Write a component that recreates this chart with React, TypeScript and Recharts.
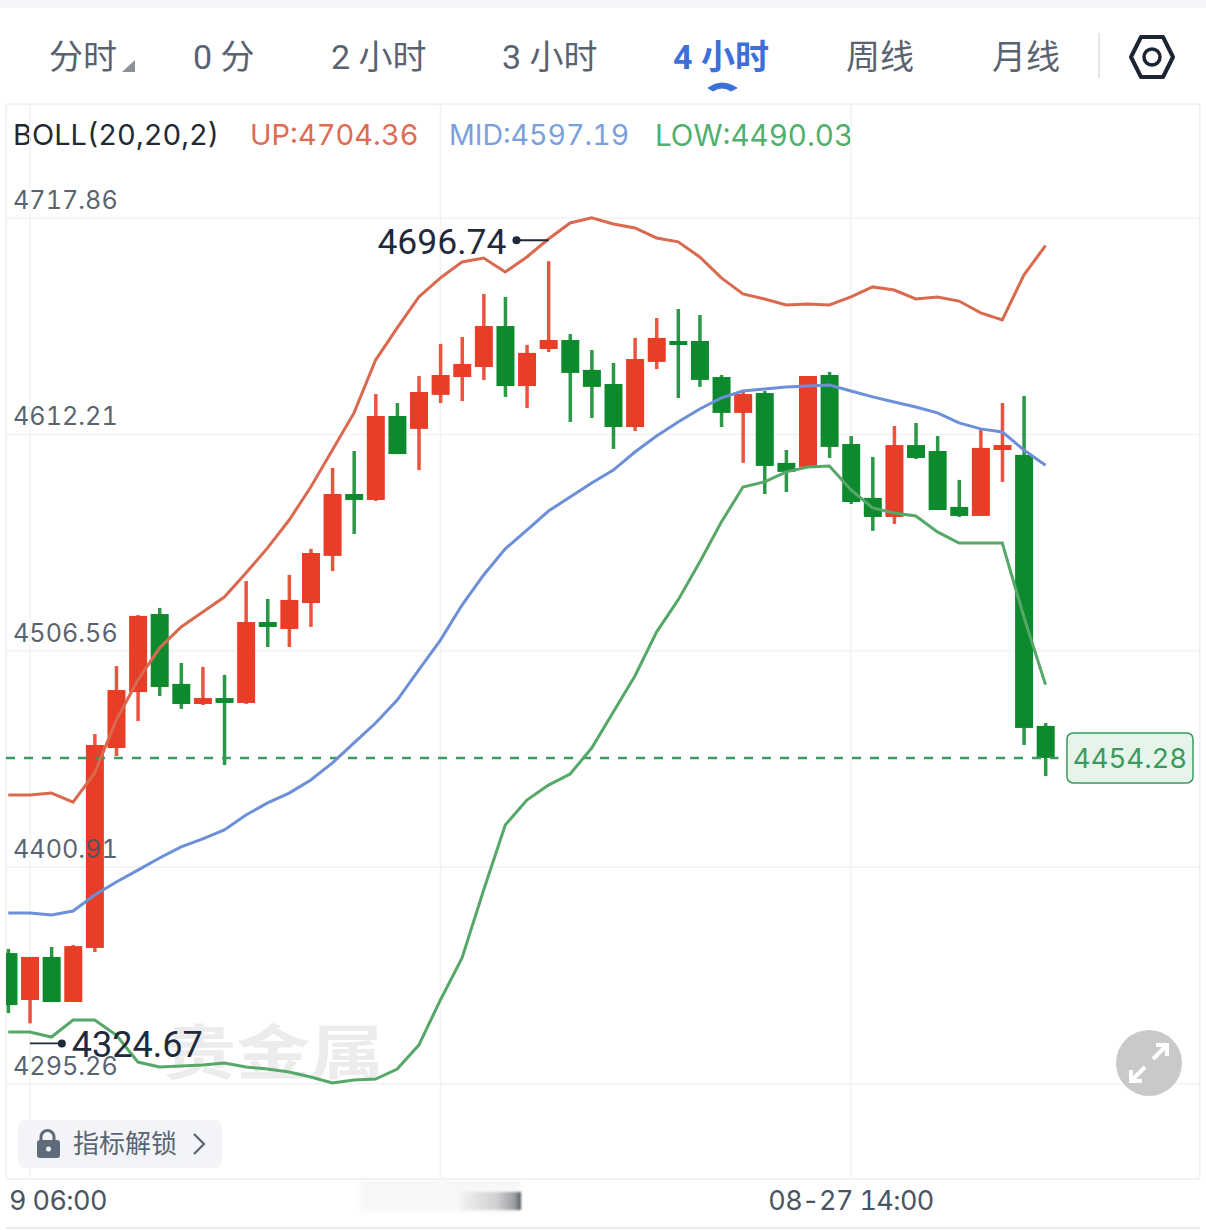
import { ComposedChart, Bar, Line, XAxis, YAxis, CartesianGrid, ReferenceLine, ReferenceDot } from "recharts"

const opens = [4359.0, 4336.1, 4357.1, 4335.1, 4361.5, 4459.1, 4486.4, 4524.5, 4490.4, 4480.6, 4483.5, 4481.1, 4520.6, 4517.2, 4529.9, 4552.9, 4583.1, 4580.2, 4621.2, 4614.9, 4631.5, 4640.2, 4645.1, 4665.1, 4635.8, 4653.9, 4658.3, 4643.7, 4636.8, 4615.8, 4647.6, 4657.8, 4657.8, 4640.2, 4622.7, 4632.4, 4598.3, 4596.3, 4641.2, 4607.5, 4581.2, 4571.9, 4607.0, 4604.1, 4576.8, 4572.4, 4604.6, 4602.2, 4469.9]
const closes = [4333.6, 4357.1, 4335.1, 4362.4, 4460.6, 4487.4, 4523.6, 4488.9, 4480.6, 4483.5, 4481.1, 4520.6, 4518.2, 4531.4, 4554.3, 4583.1, 4580.2, 4621.2, 4602.6, 4632.9, 4641.2, 4646.6, 4665.1, 4635.8, 4652.0, 4658.3, 4642.2, 4635.4, 4615.8, 4649.0, 4659.3, 4656.4, 4638.8, 4622.7, 4631.9, 4596.8, 4593.9, 4640.7, 4606.1, 4579.2, 4571.9, 4607.0, 4600.7, 4575.3, 4572.4, 4605.6, 4607.0, 4468.9, 4454.28]
const highs = [4361.0, 4357.1, 4362.0, 4362.9, 4465.9, 4499.1, 4524.0, 4527.5, 4500.6, 4498.7, 4494.8, 4540.6, 4531.9, 4543.6, 4556.3, 4595.8, 4604.1, 4631.9, 4627.5, 4640.7, 4656.4, 4659.8, 4680.8, 4679.3, 4655.9, 4696.74, 4661.2, 4653.4, 4647.1, 4659.3, 4669.0, 4673.4, 4670.5, 4641.2, 4632.9, 4633.4, 4604.6, 4640.7, 4642.7, 4611.4, 4601.2, 4616.3, 4617.8, 4611.4, 4590.0, 4614.4, 4627.5, 4631.0, 4471.3]
const lows = [4329.7, 4324.67, 4335.1, 4335.1, 4359.5, 4455.2, 4472.3, 4484.5, 4478.2, 4480.1, 4450.8, 4480.6, 4508.4, 4508.4, 4518.2, 4545.5, 4563.6, 4579.7, 4602.6, 4594.8, 4627.5, 4628.5, 4638.8, 4630.5, 4625.1, 4652.4, 4618.3, 4620.2, 4605.1, 4613.9, 4644.1, 4630.0, 4635.4, 4615.8, 4598.3, 4583.1, 4584.1, 4596.3, 4600.7, 4578.2, 4565.1, 4568.5, 4600.2, 4575.3, 4571.9, 4572.4, 4589.0, 4460.6, 4445.4]

const bollUp = [4436.2, 4436.2, 4437.1, 4432.7, 4446.9, 4472.8, 4492.3, 4507.9, 4518.2, 4525.5, 4532.8, 4544.5, 4556.8, 4570.4, 4586.5, 4604.6, 4622.7, 4648.5, 4664.2, 4679.3, 4688.6, 4696.4, 4698.3, 4691.5, 4698.8, 4707.6, 4715.4, 4717.9, 4714.9, 4713.0, 4708.1, 4706.2, 4698.8, 4688.6, 4680.8, 4678.3, 4675.4, 4675.9, 4675.4, 4679.3, 4684.2, 4682.7, 4678.3, 4679.3, 4677.3, 4671.5, 4668.1, 4690.0, 4704.36]
const bollMid = [4378.6, 4378.6, 4377.6, 4379.5, 4387.3, 4393.7, 4399.5, 4405.4, 4410.8, 4414.7, 4419.1, 4426.4, 4432.3, 4437.1, 4443.5, 4451.8, 4461.6, 4471.3, 4482.5, 4497.2, 4511.8, 4528.9, 4543.6, 4556.3, 4565.5, 4574.8, 4581.7, 4588.5, 4594.8, 4603.6, 4611.4, 4618.3, 4624.6, 4630.0, 4633.4, 4634.4, 4635.4, 4635.8, 4636.3, 4633.4, 4630.5, 4628.0, 4625.6, 4622.7, 4617.8, 4614.9, 4613.4, 4604.6, 4597.19]
const bollLow = [4320.5, 4320.5, 4318.0, 4326.3, 4326.3, 4319.0, 4305.8, 4303.4, 4303.9, 4304.3, 4305.3, 4303.4, 4302.4, 4300.9, 4298.5, 4295.6, 4297.0, 4297.5, 4302.4, 4314.1, 4336.1, 4356.6, 4389.8, 4421.5, 4433.7, 4441.0, 4446.4, 4459.1, 4476.7, 4494.3, 4515.7, 4531.4, 4549.9, 4569.4, 4586.5, 4589.0, 4593.9, 4596.3, 4596.8, 4585.1, 4576.3, 4573.8, 4572.4, 4564.6, 4559.2, 4559.2, 4559.2, 4523.1, 4490.03]

const priceTicks = [4295.26, 4400.91, 4506.56, 4612.21, 4717.86]
const timeTicks = [1, 20, 39]
const timeLabels = ["9 06:00", "", "08-27 14:00"]
const tabs = ["分时", "0 分", "2 小时", "3 小时", "4 小时", "周线", "月线"]
const tabLefts = [49, 193, 331, 502, 673, 846, 992]
const lastPrice = 4454.28
const maxPrice = 4696.74
const minPrice = 4324.67

const rows = opens.map((open, i) => ({
  index: i,
  open,
  close: closes[i],
  high: highs[i],
  low: lows[i],
  range: [lows[i], highs[i]],
  up: bollUp[i],
  mid: bollMid[i],
  bottom: bollLow[i],
}))

const FONT = "Roboto, 'Noto Sans CJK SC', sans-serif"
const NUM_FONT = "Inter, Roboto, sans-serif"
const TNUM = { fontVariantNumeric: "tabular-nums" }
const RED = "#E83D26"
const GREEN = "#0E8A2E"

function Candle(props: any) {
  const { x, y, width, height, payload } = props
  const rising = payload.close >= payload.open
  const color = rising ? RED : GREEN
  const k = height / (payload.high - payload.low)
  const top = y + (payload.high - Math.max(payload.open, payload.close)) * k
  const h = Math.max(Math.abs(payload.open - payload.close) * k, 4)
  const center = x + width / 2
  return (
    <g>
      <rect x={center - 1.75} y={y} width={3.5} height={height} fill={color} opacity={0.88} />
      <rect x={x} y={top} width={width} height={h} fill={color} />
    </g>
  )
}

function PriceTick(props: any) {
  return (
    <text x={13} y={props.y - 9} fontSize={25.2} fill="#4A5462" fontFamily={NUM_FONT} fillOpacity={0.92} style={TNUM}>
      {props.payload.value.toFixed(2)}
    </text>
  )
}

function TimeTick(props: any) {
  const label = timeLabels[timeTicks.indexOf(props.payload.value)]
  const first = props.payload.value === timeTicks[0]
  return (
    <text x={first ? 9 : props.x} y={1210} textAnchor={first ? "start" : "middle"} fontSize={27} letterSpacing={-0.6} fill="#4A5462" fontFamily={NUM_FONT} style={TNUM}>
      {label}
    </text>
  )
}

function HighMark(props: any) {
  const { cx, cy } = props
  const my = cy - 21
  return (
    <g>
      <line x1={cx - 32} y1={my} x2={cx} y2={my} stroke="#1F2937" strokeWidth={1.8} />
      <circle cx={cx - 32} cy={my} r={4} fill="#1F2937" />
      <text x={cx - 42} y={my + 14} textAnchor="end" fontSize={35.5} fill="#1F2A3C" fontFamily={FONT}>
        {maxPrice}
      </text>
    </g>
  )
}

function LowMark(props: any) {
  const { cx, cy } = props
  const my = cy + 20
  return (
    <g>
      <line x1={cx} y1={my} x2={cx + 32} y2={my} stroke="#1F2937" strokeWidth={1.8} />
      <circle cx={cx + 32} cy={my} r={4} fill="#1F2937" />
      <text x={cx + 42} y={my + 14} fontSize={36} fill="#1F2A3C" fontFamily={FONT}>
        {minPrice}
      </text>
    </g>
  )
}

function LastTag(props: any) {
  const { cy } = props
  return (
    <g>
      <rect x={1067} y={cy - 25} width={126} height={50} rx={6} fill="#E6F4EA" stroke="#3A9A60" strokeWidth={1.5} />
      <text x={1130} y={cy + 10} textAnchor="middle" fontSize={27.5} fill="#3A9A60" fontFamily={NUM_FONT} style={TNUM}>
        {lastPrice}
      </text>
    </g>
  )
}

export default function App() {
  const legend = { position: "absolute", top: 115, fontSize: 29, lineHeight: "40px", whiteSpace: "nowrap", fontFamily: NUM_FONT, ...TNUM } as const
  return (
    <div style={{ position: "absolute", left: 0, top: 0, width: 1206, height: 1230, background: "#fff", overflow: "hidden", fontFamily: FONT }}>
      <div style={{ position: "absolute", left: 0, top: 0, width: 1206, height: 8, background: "#F4F5F9" }} />

      {tabs.map((t, i) => (
        <div
          key={t}
          style={{
            position: "absolute",
            left: tabLefts[i],
            top: 34,
            fontSize: 34,
            lineHeight: "46px",
            whiteSpace: "nowrap",
            color: i === 4 ? "#3D6FD9" : "#596270",
            fontWeight: i === 4 ? 700 : 400,
          }}
        >
          {t}
        </div>
      ))}

      <svg width={1206} height={104} style={{ position: "absolute", left: 0, top: 0 }}>
        <path d="M135 60 L135 72 L122 72 Z" fill="#8B9099" />
        <path d="M708 88 Q722 78 737 88 L731 91 Q722 85 713 91 Z" fill="#3D6FD9" stroke="#3D6FD9" strokeWidth={1} />
        <line x1={1099} y1={33} x2={1099} y2={78} stroke="#E4E6EA" strokeWidth={2} />
        <path d="M1141 37 L1163 37 L1173 57 L1163 77 L1141 77 L1131 57 Z" fill="none" stroke="#1C2533" strokeWidth={4} strokeLinejoin="round" />
        <circle cx={1152} cy={57} r={8} fill="none" stroke="#1C2533" strokeWidth={3.5} />
      </svg>

      <div style={{ ...legend, left: 13, color: "#222933" }}>BOLL(20,20,2)</div>
      <div style={{ ...legend, left: 250, color: "#DE6B54" }}>UP:4704.36</div>
      <div style={{ ...legend, left: 449, color: "#7A9FDD", fontSize: 28.5 }}>MID:4597.19</div>
      <div style={{ ...legend, left: 655, color: "#4FAF6B", fontSize: 29.5 }}>LOW:4490.03</div>

      <div style={{ position: "absolute", left: 6, top: 104, width: 1194, height: 1075, boxSizing: "border-box", border: "1.5px solid #E9EBEE" }} />
      <div style={{ position: "absolute", left: 6, top: 1227, width: 1194, height: 2, background: "#E9EBEE" }} />
      <div style={{ position: "absolute", left: 162, top: 1014, fontSize: 74, lineHeight: "80px", whiteSpace: "nowrap", color: "#ECECED", fontWeight: 700, transform: "scaleY(0.8)" }}>贵金属</div>

      <div style={{ position: "absolute", left: 360, top: 1180, width: 161, height: 32, background: "#F7F7F8", filter: "blur(2px)" }} />
      <div
        style={{
          position: "absolute",
          left: 460,
          top: 1192,
          width: 61,
          height: 18,
          background: "linear-gradient(90deg, #F2F2F3 0%, #D0D1D3 60%, #9A9CA0 90%, #55585D 100%)",
          filter: "blur(1px)",
        }}
      />

      <div style={{ position: "absolute", left: 0, top: 0 }}>
        <ComposedChart width={1206} height={1230} data={rows} margin={{ top: 104, right: 6, left: 5, bottom: 0 }}>
          <CartesianGrid stroke="#F2F2F4" strokeWidth={1.5} />
          <XAxis
            dataKey="index"
            type="number"
            domain={[-0.104, 55.15]}
            allowDataOverflow
            ticks={timeTicks}
            interval={0}
            height={51}
            axisLine={false}
            tickLine={false}
            tick={<TimeTick />}
          />
          <YAxis
            type="number"
            domain={[4248.7, 4773.5]}
            ticks={priceTicks}
            interval={0}
            width={1}
            axisLine={false}
            tickLine={false}
            tick={<PriceTick />}
          />
          <ReferenceLine
            segment={[
              { x: -0.104, y: lastPrice },
              { x: 48.6, y: lastPrice },
            ]}
            stroke="#3A9A60"
            strokeWidth={2.5}
            strokeDasharray="9 9"
          />
          <Bar dataKey="range" barSize={18} shape={<Candle />} isAnimationActive={false} />
          <Line dataKey="up" type="linear" stroke="#D9694F" strokeWidth={3} dot={false} isAnimationActive={false} />
          <Line dataKey="mid" type="linear" stroke="#6C8FD8" strokeWidth={3} dot={false} isAnimationActive={false} />
          <Line dataKey="bottom" type="linear" stroke="#55A868" strokeWidth={3} dot={false} isAnimationActive={false} />
          <ReferenceDot x={25} y={maxPrice} shape={<HighMark />} />
          <ReferenceDot x={1} y={minPrice} shape={<LowMark />} />
          <ReferenceDot x={48} y={lastPrice} shape={<LastTag />} />
        </ComposedChart>
      </div>

      <div style={{ position: "absolute", left: 18, top: 1120, width: 204, height: 48, borderRadius: 8, background: "#F2F4F7" }}>
        <svg width={40} height={48} style={{ position: "absolute", left: 14, top: 0 }}>
          <path d="M9 21 V17 a6.5 6.5 0 0 1 13 0 V21" fill="none" stroke="#5F6B7A" strokeWidth={3} />
          <rect x={5} y={20} width={23} height={18} rx={3} fill="#5F6B7A" />
          <circle cx={16.5} cy={29} r={2.5} fill="#F2F4F7" />
        </svg>
        <div style={{ position: "absolute", left: 55, top: 5, fontSize: 26, lineHeight: "38px", whiteSpace: "nowrap", color: "#5A6472" }}>指标解锁</div>
        <svg width={20} height={48} style={{ position: "absolute", left: 172, top: 0 }}>
          <path d="M4 14 L14 24 L4 34" fill="none" stroke="#5A6472" strokeWidth={2.2} />
        </svg>
      </div>

      <svg width={66} height={66} style={{ position: "absolute", left: 1116, top: 1030 }}>
        <circle cx={33} cy={33} r={33} fill="#C9C9C9" />
        <path d="M37 29 L50 16 M40 15 L51 15 L51 26 M29 37 L16 50 M15 40 L15 51 L26 51" fill="none" stroke="#fff" strokeWidth={4} />
      </svg>
    </div>
  )
}
